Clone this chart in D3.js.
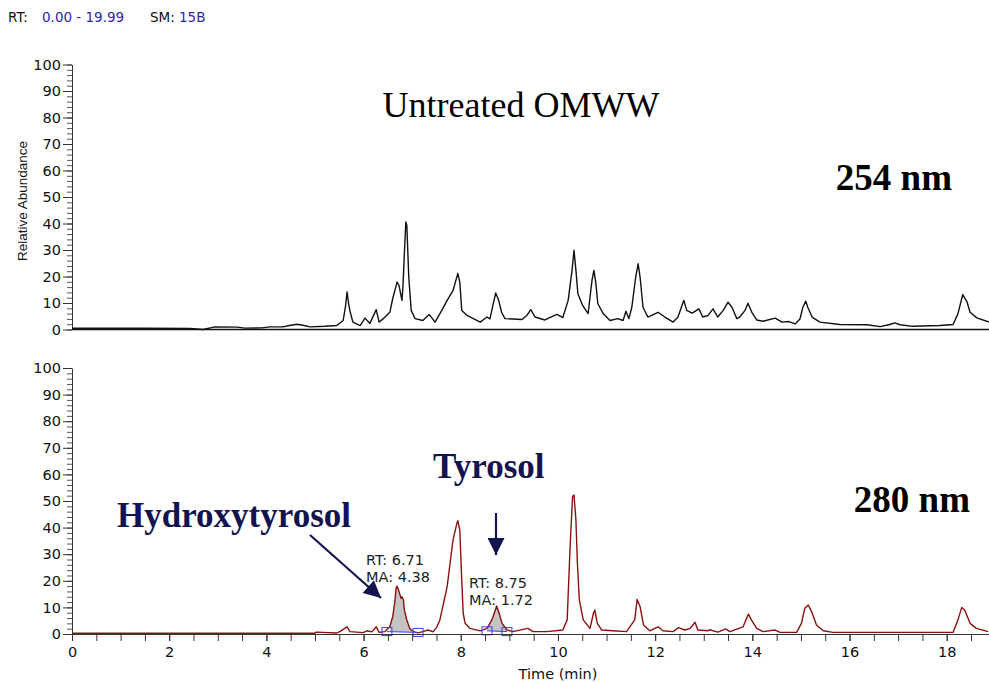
<!DOCTYPE html>
<html>
<head>
<meta charset="utf-8">
<script src="https://cdn.jsdelivr.net/npm/d3@7"></script>
<style>
  body { margin: 0; background: #fff; }
  svg { display: block; font-family: "DejaVu Sans", Arial, sans-serif; }
</style>
</head>
<body>
<svg id="chart"></svg>
<script>
// time axis ticks (min) and abundance ticks (%)
const timeTicks = [0, 2, 4, 6, 8, 10, 12, 14, 16, 18];
const abundanceTicks = [0, 10, 20, 30, 40, 50, 60, 70, 80, 90, 100];

// 254 nm trace, [time (min), relative abundance]
const trace254 = [
  [0, 0.5], [1.5, 0.5], [2.43, 0.4], [2.7, 0], [2.94, 1.0], [3.4, 0.9], [3.56, 0.5],
  [3.91, 0.6], [4.07, 1.0], [4.34, 1.0], [4.5, 1.6], [4.63, 2.0], [4.75, 1.6], [4.9, 1.0],
  [5.2, 1.2], [5.45, 1.5], [5.58, 3.4], [5.63, 9], [5.66, 14.2], [5.69, 10], [5.72, 7],
  [5.78, 2.8], [5.93, 1.5], [6.03, 4.3], [6.13, 2.3], [6.26, 7.5], [6.32, 2.8], [6.4, 4],
  [6.54, 6.5], [6.6, 11.7], [6.69, 17.9], [6.73, 16.6], [6.79, 11], [6.81, 16], [6.85, 33],
  [6.87, 40.6], [6.89, 39.3], [6.93, 19.8], [6.98, 7.2], [7.06, 4.1], [7.22, 3.4],
  [7.35, 5.7], [7.47, 2.8], [7.61, 7.2], [7.72, 11], [7.84, 14.7], [7.94, 21.2],
  [7.98, 17.9], [8.02, 7.2], [8.13, 5.3], [8.4, 2.8], [8.54, 4.7], [8.6, 4], [8.66, 9],
  [8.72, 13.8], [8.78, 11], [8.84, 6.5], [8.91, 4.1], [9.26, 3.8], [9.36, 5.3], [9.44, 7.5],
  [9.53, 4.7], [9.73, 3.6], [9.98, 5.7], [10.1, 4.5], [10.21, 11], [10.29, 22.3],
  [10.33, 29.9], [10.37, 22.3], [10.41, 13.5], [10.51, 9], [10.62, 6], [10.7, 18.5],
  [10.74, 22.3], [10.78, 17.4], [10.82, 9.8], [10.93, 6], [11.07, 3.4], [11.23, 4.1],
  [11.34, 3.4], [11.4, 6.9], [11.46, 4.1], [11.52, 8.4], [11.6, 19.8], [11.65, 24.8],
  [11.69, 19.8], [11.75, 8.4], [11.85, 4.7], [12.06, 6.5], [12.2, 4.7], [12.37, 2.8],
  [12.47, 4.7], [12.59, 11], [12.65, 7.2], [12.76, 6.2], [12.9, 7.8], [12.98, 4.7],
  [13.09, 5.3], [13.19, 7.8], [13.29, 4.7], [13.4, 7.2], [13.5, 10.3], [13.58, 8.4],
  [13.68, 4.1], [13.74, 4.7], [13.85, 7.2], [13.91, 9.9], [13.99, 6.5], [14.09, 3.6],
  [14.22, 3.1], [14.47, 4.3], [14.61, 2.8], [14.75, 3.0], [14.88, 2.1], [14.98, 4.0],
  [15.04, 8.4], [15.1, 10.7], [15.14, 8.4], [15.23, 4.7], [15.39, 2.8], [15.8, 1.9],
  [16.36, 1.8], [16.63, 1.1], [16.83, 1.9], [16.93, 2.5], [17.04, 1.8], [17.3, 1.2],
  [17.86, 1.5], [18.13, 1.9], [18.23, 5.9], [18.33, 13.2], [18.42, 10.3], [18.48, 6.5],
  [18.62, 4.4], [18.87, 2.8]
];

// 280 nm trace, [time (min), relative abundance]
const trace280 = [
  [0, 0.3], [5.0, 0.3], [5.02, 0.7], [5.45, 0.4], [5.51, 0.9], [5.66, 2.7], [5.72, 0.9],
  [5.99, 0.5], [6.07, 1.2], [6.17, 0.8], [6.26, 2.7], [6.32, 0.6], [6.44, 0.9], [6.54, 2.7],
  [6.6, 6.5], [6.64, 11.6], [6.67, 17.3], [6.69, 18], [6.72, 16.5], [6.75, 14.7], [6.77, 13.4],
  [6.79, 14], [6.82, 12.8], [6.84, 9], [6.89, 5.3], [6.95, 2.1], [7.02, 0.9], [7.12, 0.4],
  [7.22, 0.9], [7.33, 1.5], [7.43, 0.8], [7.51, 2.7], [7.57, 5.3], [7.63, 10.3], [7.72, 17.8],
  [7.78, 26.6], [7.84, 35.3], [7.92, 41.6], [7.94, 42.6], [7.98, 39], [8.02, 20.3],
  [8.05, 7.8], [8.09, 4], [8.19, 2.1], [8.4, 1.2], [8.54, 2.1], [8.64, 5.3], [8.74, 10.5],
  [8.79, 7.8], [8.85, 4], [8.95, 1.5], [9.07, 0.9], [9.38, 2.1], [9.49, 0.9], [9.77, 0.9],
  [10.1, 1.5], [10.19, 5.3], [10.25, 32.8], [10.3, 51.6], [10.33, 52.3], [10.37, 42.8],
  [10.4, 26.6], [10.44, 12.8], [10.52, 5.3], [10.66, 2.1], [10.73, 7.8], [10.76, 9],
  [10.81, 4], [10.9, 1.5], [11.13, 1.2], [11.41, 0.9], [11.58, 5.3], [11.63, 13],
  [11.69, 10.3], [11.76, 3.4], [11.89, 1.2], [12.06, 2.7], [12.16, 1.2], [12.37, 0.9],
  [12.48, 2.4], [12.61, 1.5], [12.72, 2.1], [12.82, 4.4], [12.88, 1.5], [13.09, 1.2],
  [13.12, 1.6], [13.29, 0.7], [13.45, 1.9], [13.54, 0.9], [13.81, 2.7], [13.92, 7.5],
  [13.98, 5.3], [14.09, 2.1], [14.22, 0.9], [14.47, 1.5], [14.57, 0.6], [14.91, 0.6],
  [15.01, 4], [15.08, 9.7], [15.15, 10.9], [15.22, 8.4], [15.32, 3.4], [15.46, 1.2],
  [15.66, 0.6], [18.13, 0.6], [18.23, 5.3], [18.31, 10], [18.37, 9], [18.48, 4],
  [18.61, 2.1], [18.85, 0.9]
];

// integrated peaks in the 280 nm trace
const peakRT = [6.71, 8.75];
const peakMA = [4.38, 1.72];
const peakStart = [6.48, 8.54];
const peakEnd = [7.12, 8.95];
const peakStartBase = [0.9, 1.2];
const peakEndBase = [0.6, 0.9];

class Chromatogram {

    constructor( config ) {
        this.config = {
            parent: config.parent,
            width: config.width || 989,
            height: config.height || 682,
            left: 72,
            right: 989,
            tmax: 18.87
        };
        this.init();
    }

    init() {
        let self = this;

        self.svg = d3.select( self.config.parent )
            .attr('width', self.config.width)
            .attr('height', self.config.height);

        self.xscale = d3.scaleLinear()
            .domain([0, self.config.tmax])
            .range([self.config.left, self.config.right]);

        self.yTop = d3.scaleLinear().domain([0, 100]).range([329.5, 64.5]);
        self.yBottom = d3.scaleLinear().domain([0, 100]).range([634, 368]);
    }

    yaxis( yscale ) {
        let self = this;
        const minor = self.svg.append('g')
            .attr('transform', `translate(${self.config.left}, 0)`)
            .call( d3.axisLeft(yscale).tickValues(d3.range(0, 101, 2)).tickSize(5).tickFormat('') );
        minor.select('.domain').remove();
        minor.selectAll('line').attr('stroke', '#555');

        const major = self.svg.append('g')
            .attr('transform', `translate(${self.config.left}, 0)`)
            .call( d3.axisLeft(yscale).tickValues(abundanceTicks).tickSize(9).tickPadding(2).tickSizeOuter(0) );
        major.select('.domain').attr('stroke', '#333');
        major.selectAll('line').attr('stroke', '#333');
        major.selectAll('text')
            .attr('font-size', 14.5)
            .attr('font-family', '"DejaVu Sans", Arial, sans-serif')
            .attr('fill', '#111');
    }

    trace( data, yscale, color ) {
        let self = this;
        const line = d3.line()
            .x( d => self.xscale(d[0]) )
            .y( d => yscale(d[1]) );
        self.svg.append('path')
            .attr('d', line(data))
            .attr('fill', 'none')
            .attr('stroke', color)
            .attr('stroke-width', 1.4)
            .attr('stroke-linejoin', 'round');
    }

    render() {
        let self = this;
        const xs = self.xscale;

        // header
        const head = self.svg.append('text')
            .attr('y', 22)
            .attr('font-size', 13.5);
        head.append('tspan').attr('x', 8).attr('fill', '#111').text('RT:');
        head.append('tspan').attr('x', 42).attr('fill', '#2a2aa0').text('0.00 - 19.99');
        head.append('tspan').attr('x', 150).attr('fill', '#111').text('SM:');
        head.append('tspan').attr('x', 179).attr('fill', '#2a2aa0').text('15B');

        // top panel
        self.yaxis( self.yTop );
        self.svg.append('line')
            .attr('x1', self.config.left).attr('x2', self.config.right)
            .attr('y1', self.yTop(0)).attr('y2', self.yTop(0))
            .attr('stroke', '#111').attr('stroke-width', 1.5);
        self.trace( trace254, self.yTop, '#111' );

        self.svg.append('text')
            .attr('transform', 'translate(27, 201) rotate(-90)')
            .attr('text-anchor', 'middle')
            .attr('font-family', '"Liberation Sans", Arial, sans-serif')
            .attr('font-size', 13.5)
            .attr('fill', '#111')
            .text('Relative Abundance');

        // bottom panel
        self.yaxis( self.yBottom );

        // shaded integrated peaks
        peakRT.forEach( (rt, i) => {
            const t0 = peakStart[i], t1 = peakEnd[i];
            const base = t => peakStartBase[i] + (peakEndBase[i] - peakStartBase[i]) * (t - t0) / (t1 - t0);
            const pts = trace280.filter( d => d[0] >= t0 && d[0] <= t1 );
            const area = d3.area()
                .x( d => xs(d[0]) )
                .y0( d => self.yBottom(base(d[0])) )
                .y1( d => self.yBottom(Math.max(d[1], base(d[0]))) );
            self.svg.append('path')
                .attr('d', area(pts))
                .attr('fill', '#c4c4c4');
        });

        self.trace( trace280, self.yBottom, '#8b1010' );

        peakRT.forEach( (rt, i) => {
            const y0 = self.yBottom(peakStartBase[i]), y1 = self.yBottom(peakEndBase[i]);
            self.svg.append('line')
                .attr('x1', xs(peakStart[i])).attr('x2', xs(peakEnd[i]))
                .attr('y1', y0).attr('y2', y1)
                .attr('stroke', '#3b3bff').attr('stroke-width', 1);
            [[peakStart[i], y0], [peakEnd[i], y1]].forEach( p => {
                self.svg.append('rect')
                    .attr('x', xs(p[0]) - 5).attr('y', p[1] - 4)
                    .attr('width', 10).attr('height', 8)
                    .attr('fill', 'none')
                    .attr('stroke', '#3b3bff').attr('stroke-width', 1);
            });
        });

        // x axis
        const xminor = self.svg.append('g')
            .attr('transform', `translate(0, ${self.yBottom(0)})`)
            .call( d3.axisBottom(xs).tickValues(d3.range(0, 18.9, 0.5)).tickSize(7).tickFormat('').tickSizeOuter(0) );
        xminor.select('.domain').attr('stroke', '#333');
        xminor.selectAll('line').attr('stroke', '#333');

        const xmajor = self.svg.append('g')
            .attr('transform', `translate(0, ${self.yBottom(0)})`)
            .call( d3.axisBottom(xs).tickValues(timeTicks).tickSize(7).tickPadding(6) );
        xmajor.select('.domain').remove();
        xmajor.selectAll('line').attr('stroke', '#333');
        xmajor.selectAll('text')
            .attr('font-size', 14.5)
            .attr('font-family', '"DejaVu Sans", Arial, sans-serif')
            .attr('fill', '#111');

        self.svg.append('text')
            .attr('x', xs(10)).attr('y', 679)
            .attr('text-anchor', 'middle')
            .attr('font-size', 14.5)
            .attr('fill', '#111')
            .text('Time (min)');

        // peak labels
        const labelPos = [[366, 565], [469, 588]];
        peakRT.forEach( (rt, i) => {
            const g = self.svg.append('text')
                .attr('font-size', 14.5)
                .attr('fill', '#222');
            g.append('tspan').attr('x', labelPos[i][0]).attr('y', labelPos[i][1])
                .text('RT: ' + rt.toFixed(2));
            g.append('tspan').attr('x', labelPos[i][0]).attr('y', labelPos[i][1] + 17)
                .text('MA: ' + peakMA[i].toFixed(2));
        });

        // titles
        const serif = '"Liberation Serif", "Times New Roman", serif';
        self.svg.append('text')
            .attr('x', 521).attr('y', 117)
            .attr('text-anchor', 'middle')
            .attr('font-family', serif).attr('font-size', 36)
            .attr('fill', '#000')
            .text('Untreated OMWW');
        self.svg.append('text')
            .attr('x', 952).attr('y', 190)
            .attr('text-anchor', 'end')
            .attr('font-family', serif).attr('font-size', 37).attr('font-weight', 'bold')
            .text('254 nm');
        self.svg.append('text')
            .attr('x', 970).attr('y', 512)
            .attr('text-anchor', 'end')
            .attr('font-family', serif).attr('font-size', 37).attr('font-weight', 'bold')
            .text('280 nm');

        const navy = '#13134f';
        self.svg.append('text')
            .attr('x', 117).attr('y', 527)
            .attr('font-family', serif).attr('font-size', 35).attr('font-weight', 'bold')
            .attr('fill', navy)
            .text('Hydroxytyrosol');
        self.svg.append('text')
            .attr('x', 433).attr('y', 478)
            .attr('font-family', serif).attr('font-size', 35).attr('font-weight', 'bold')
            .attr('fill', navy)
            .text('Tyrosol');

        // arrows
        self.svg.append('defs').append('marker')
            .attr('id', 'head')
            .attr('viewBox', '0 0 10 10')
            .attr('refX', 10).attr('refY', 5)
            .attr('markerUnits', 'userSpaceOnUse')
            .attr('markerWidth', 22).attr('markerHeight', 17)
            .attr('orient', 'auto')
            .append('path')
            .attr('d', 'M0,0 L10,5 L0,10 Z')
            .attr('fill', navy);

        self.svg.append('line')
            .attr('x1', 310).attr('y1', 535)
            .attr('x2', 381).attr('y2', 598)
            .attr('stroke', navy).attr('stroke-width', 2.2)
            .attr('marker-end', 'url(#head)');
        self.svg.append('line')
            .attr('x1', 496).attr('y1', 513)
            .attr('x2', 496).attr('y2', 555)
            .attr('stroke', navy).attr('stroke-width', 2.2)
            .attr('marker-end', 'url(#head)');
    }
}

let chart = new Chromatogram({ parent: '#chart', width: 989, height: 682 });
chart.render();
</script>
</body>
</html>
